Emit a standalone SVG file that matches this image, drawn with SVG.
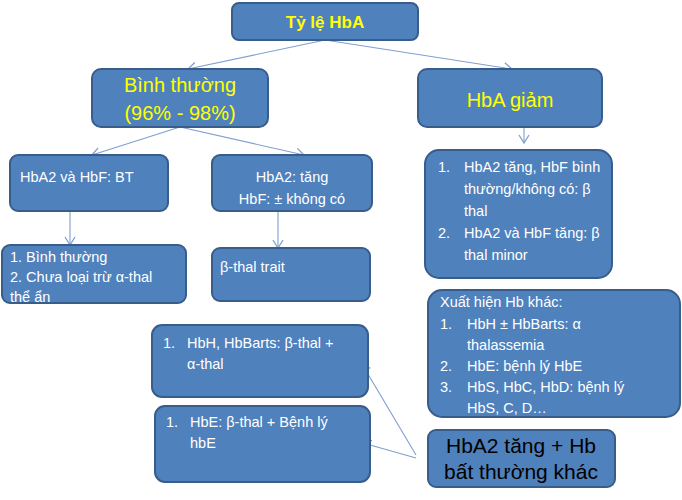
<svg xmlns="http://www.w3.org/2000/svg" width="682" height="500" viewBox="0 0 682 500">
<style>
.b{fill:#4f81bd;stroke:#385d8a;stroke-width:2}
text{font-family:"Liberation Sans",Arial,sans-serif;fill:#fff;font-size:14.5px}
text.y{fill:#ffff00;font-size:20px}
text.t{fill:#ffff00;font-size:17px;font-weight:bold}
text.k{fill:#000;font-size:21px}
.c line{stroke:#7f9fd0;stroke-width:1.1}
</style>
<defs><marker id="a" markerWidth="12" markerHeight="12" refX="8" refY="5" orient="auto" markerUnits="userSpaceOnUse" overflow="visible"><path d="M0,0L8,5L0,10" fill="none" stroke="#7f9fd0" stroke-width="1.3"/></marker></defs>
<g class="c">
<line x1="325" y1="40" x2="188" y2="69" marker-end="url(#a)"/>
<line x1="325" y1="40" x2="512" y2="69" marker-end="url(#a)"/>
<line x1="180" y1="127" x2="92" y2="155" marker-end="url(#a)"/>
<line x1="180" y1="127" x2="304" y2="155" marker-end="url(#a)"/>
<line x1="70" y1="211" x2="70" y2="245" marker-end="url(#a)"/>
<line x1="278" y1="211" x2="278" y2="248" marker-end="url(#a)"/>
<line x1="524" y1="127" x2="524" y2="143" marker-end="url(#a)"/>
<line x1="416" y1="455" x2="362" y2="364" marker-end="url(#a)"/>
<line x1="416" y1="458" x2="363" y2="443" marker-end="url(#a)"/>
</g>
<g id="n1"><rect class="b" x="232" y="3" width="186" height="37" rx="7"/><text x="325" y="28" text-anchor="middle" class="t">Tỷ lệ HbA</text></g>
<g id="n2"><rect class="b" x="92" y="69" width="176" height="58" rx="9"/><text x="180" y="92" text-anchor="middle" class="y">Bình thường</text><text x="180" y="120" text-anchor="middle" class="y">(96% - 98%)</text></g>
<g id="n3"><rect class="b" x="418" y="69" width="184" height="58" rx="9"/><text x="510" y="107" text-anchor="middle" class="y">HbA giảm</text></g>
<g id="n4"><rect class="b" x="10" y="155" width="158" height="56" rx="8"/><text x="20" y="182">HbA2 và HbF: BT</text></g>
<g id="n5"><rect class="b" x="212" y="155" width="160" height="56" rx="8"/><text x="292" y="182" text-anchor="middle">HbA2: tăng</text><text x="292" y="204" text-anchor="middle">HbF: ± không có</text></g>
<g id="n6"><rect class="b" x="425" y="150" width="187" height="128" rx="14"/><text x="438" y="172">1.</text><text x="464" y="172">HbA2 tăng, HbF bình</text><text x="464" y="194">thường/không có: β</text><text x="464" y="216">thal</text><text x="438" y="238">2.</text><text x="464" y="238">HbA2 và HbF tăng: β</text><text x="464" y="260">thal minor</text></g>
<g id="n7"><rect class="b" x="2" y="245" width="184" height="58" rx="8"/><text x="10" y="262">1. Bình thường</text><text x="10" y="282">2. Chưa loại trừ  α-thal</text><text x="10" y="302">thể ẩn</text></g>
<g id="n8"><rect class="b" x="212" y="248" width="158" height="53" rx="8"/><text x="220" y="272">β-thal trait</text></g>
<g id="n9"><rect class="b" x="428" y="290" width="252" height="127" rx="14"/><text x="440" y="307">Xuất hiện Hb khác:</text><text x="440" y="329">1.</text><text x="467" y="329">HbH ± HbBarts: α</text><text x="467" y="350">thalassemia</text><text x="440" y="371">2.</text><text x="467" y="371">HbE: bệnh lý HbE</text><text x="440" y="392">3.</text><text x="467" y="392">HbS, HbC, HbD: bệnh lý</text><text x="467" y="413">HbS, C, D…</text></g>
<g id="n10"><rect class="b" x="152" y="325" width="216" height="72" rx="10"/><text x="163" y="348">1.</text><text x="187" y="348">HbH, HbBarts: β-thal +</text><text x="187" y="369">α-thal</text></g>
<g id="n11"><rect class="b" x="155" y="406" width="215" height="76" rx="10"/><text x="166" y="427">1.</text><text x="190" y="427">HbE: β-thal + Bệnh lý</text><text x="190" y="448">hbE</text></g>
<g id="n12"><rect class="b" x="428" y="430" width="187" height="57" rx="8"/><text x="521" y="453" text-anchor="middle" class="k">HbA2 tăng + Hb</text><text x="521" y="479" text-anchor="middle" class="k">bất thường khác</text></g>
</svg>
